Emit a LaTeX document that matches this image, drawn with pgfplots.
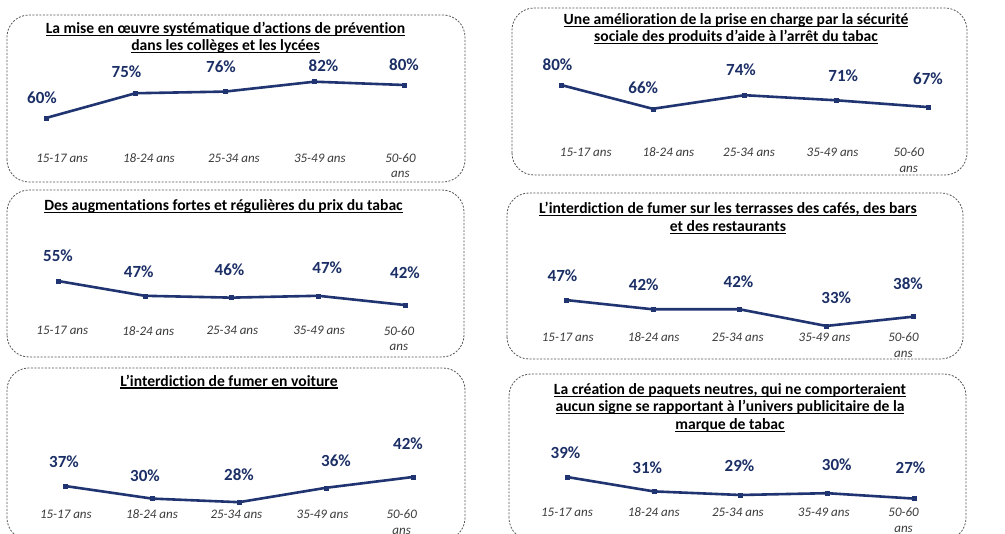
\documentclass[border=0pt]{standalone}
\usepackage{fontspec}
\setmainfont{Carlito}[Ligatures={NoCommon}]
\usepackage{pgfplots}
\usepackage{pgfplotstable}
\pgfplotsset{compat=1.18}
\definecolor{lnavy}{HTML}{1F3470}
\definecolor{lab}{HTML}{1B2F66}
\definecolor{tickc}{HTML}{3A3A3A}
\definecolor{boxc}{HTML}{555555}
\newcommand\ul[1]{\setbox0\hbox{#1}\leavevmode\rlap{\rule[-2.6pt]{\wd0}{1.2pt}}\box0}

\pgfplotstableread{
x y lx ly
0 60 -4 20
1 75 -9 21.5
2 76 -4 25
3 82 9 16
4 80 0 20
}\dA
\pgfplotstableread{
x y lx ly
0 80 -3.5 20
1 66 -9.5 21
2 74 -3.5 25
3 71 7 25
4 67 0 28
}\dB
\pgfplotstableread{
x y lx ly
0 55 0 25
1 47 -6 24
2 46 -2 27.5
3 47 9 28.5
4 42 0 32.5
}\dC
\pgfplotstableread{
x y lx ly
0 47 -3.5 24
1 42 -9 24.5
2 42 -1 28
3 33 10 28
4 38 -5 33
}\dD
\pgfplotstableread{
x y lx ly
0 37 -1 24
1 30 -7 22.5
2 28 0 27.5
3 36 10 27
4 42 -5 33
}\dE
\pgfplotstableread{
x y lx ly
0 39 -1.5 24
1 31 -6.5 24
2 29 -1 29
3 30 9.5 28
4 27 -3.5 30.5
}\dF

\pgfplotsset{panel/.style={
  anchor=south west, clip=false,
  xmin=0, xmax=4, ymax=100,
  axis line style={draw=none},
  ytick=\empty, xtick pos=bottom,
  major tick length=0pt,
  xticklabels={15-17 ans,18-24 ans,25-34 ans,35-49 ans,{50-60\\ans}},
  xticklabel style={anchor=north, inner sep=0pt, align=center,
     font=\fontsize{13}{15.5}\selectfont\itshape, text=tickc},
  point meta=y,
  visualization depends on={\thisrow{lx} \as \lblx},
  visualization depends on={\thisrow{ly} \as \lbly},
  nodes near coords={\pgfmathprintnumber[assume math mode=true]{\pgfplotspointmeta}\%},
  nodes near coords style={anchor=center, inner sep=0pt,
     font=\fontsize{17}{18}\selectfont\bfseries, text=lab,
     xshift=\lblx pt, yshift=\lbly pt},
},
pl/.style={color=lnavy, line width=2.6pt, mark=square*, mark size=2pt,
   mark options={solid, line width=0.4pt, fill=lnavy}}}

\begin{document}
\begin{tikzpicture}[x=1pt,y=1pt]
\useasboundingbox (0,0) rectangle (1005,534);
\clip (0,0) rectangle (1005,534);
\fill[white] (0,0) rectangle (1005,534);

\begin{scope}[draw=boxc, line width=0.8pt, dash pattern=on 2pt off 1.5pt, rounded corners=22pt]
\draw (7,352) rectangle (465,519);
\draw (512,359) rectangle (967,526);
\draw (7,177) rectangle (464,344);
\draw (507,175) rectangle (963,341);
\draw (7,-6) rectangle (465,166);
\draw (509,-6) rectangle (966,160);
\end{scope}

\tikzset{ttl/.style={align=center, inner sep=0pt, font=\fontsize{15.6}{17.5}\selectfont\bfseries}}
\node[ttl] at (225.5,496.25) {\ul{La mise en œuvre systématique d’actions de prévention}\\\ul{dans les collèges et les lycées}};
\node[ttl] at (736,505.25) {\ul{Une amélioration de la prise en charge par la sécurité}\\\ul{sociale des produits d’aide à l’arrêt du tabac}};
\node[ttl] at (223.5,328) {\ul{Des augmentations fortes et régulières du prix du tabac}};
\node[ttl] at (728,315.75) {\ul{L’interdiction de fumer sur les terrasses des cafés, des bars}\\\ul{et des restaurants}};
\node[ttl] at (229,152.3) {\ul{L’interdiction de fumer en voiture}};
\node[ttl] at (730,126.5) {\ul{La création de paquets neutres, qui ne comporteraient}\\\ul{aucun signe se rapportant à l’univers publicitaire de la}\\\ul{marque de tabac}};

\begin{axis}[panel, at={(46pt,399.5pt)}, x=89.5pt, y=1.65pt, ymin=50,
  xtick={0.18,1.15,2.1,3.06,3.96}, xticklabel style={yshift=-19pt}]
\addplot[pl] table[x=x,y=y] {\dA};
\end{axis}
\begin{axis}[panel, at={(561pt,398pt)}, x=91.75pt, y=1.7pt, ymin=50,
  xtick={0.27,1.17,2.05,2.96,3.79}, xticklabel style={yshift=-11.7pt}]
\addplot[pl] table[x=x,y=y] {\dB};
\end{axis}
\begin{axis}[panel, at={(58pt,206.75pt)}, x=86.75pt, y=1.85pt, ymin=30,
  xtick={0.05,1.04,2.01,3.01,3.93}, xticklabel style={yshift=1pt}]
\addplot[pl] table[x=x,y=y] {\dC};
\end{axis}
\begin{axis}[panel, at={(566pt,184pt)}, x=86.75pt, y=1.85pt, ymin=20,
  xtick={0.02,1.01,1.98,2.98,3.89}, xticklabel style={yshift=17.3pt}]
\addplot[pl] table[x=x,y=y] {\dD};
\end{axis}
\begin{axis}[panel, at={(65pt,17.4pt)}, x=87pt, y=1.8pt, ymin=20,
  xtick={0.01,1.0,1.97,2.96,3.87}, xticklabel style={yshift=7pt}]
\addplot[pl] table[x=x,y=y] {\dE};
\end{axis}
\begin{axis}[panel, at={(567pt,22.8pt)}, x=86.75pt, y=1.8pt, ymin=20,
  xtick={0,1,1.97,2.96,3.88}, xticklabel style={yshift=3.5pt}]
\addplot[pl] table[x=x,y=y] {\dF};
\end{axis}
\end{tikzpicture}
\end{document}
